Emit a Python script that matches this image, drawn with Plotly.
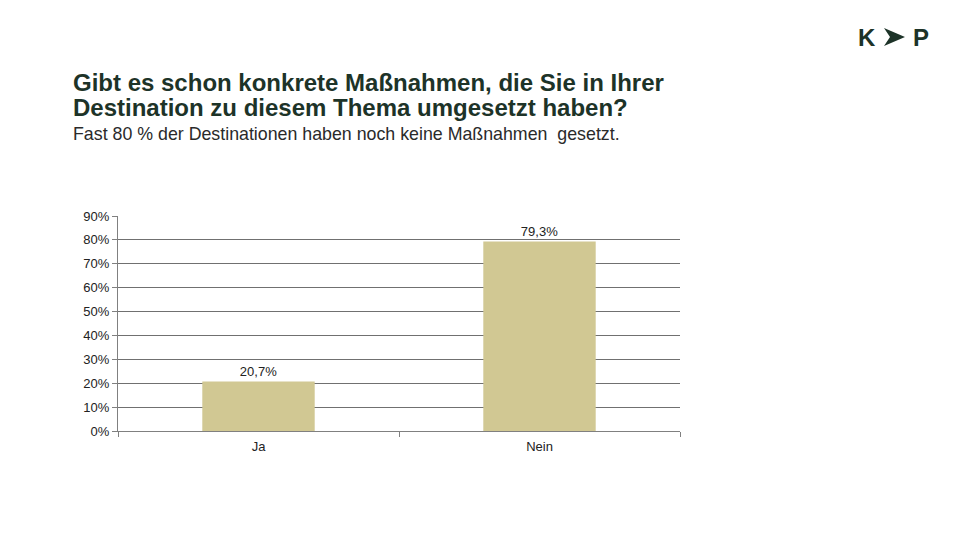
import plotly.graph_objects as go

categories = ["Ja", "Nein"]
values = [20.7, 79.3]
tick_vals = [0, 10, 20, 30, 40, 50, 60, 70, 80, 90]
tick_text = ["0%", "10%", "20%", "30%", "40%", "50%", "60%", "70%", "80%", "90%"]
labels = [f"{v:.1f}".replace(".", ",") + "%" for v in values]

title_lines = ["Gibt es schon konkrete Maßnahmen, die Sie in Ihrer",
               "Destination zu diesem Thema umgesetzt haben?"]
subtitle = "Fast 80 % der Destinationen haben noch keine Maßnahmen  gesetzt."

L, R, T, B = 118, 680, 216, 431
def px(x): return (x - L) / (R - L)
def py(y): return (B - y) / (B - T)

dark = "#1d3328"
font_fam = "Liberation Sans, Arial, sans-serif"

fig = go.Figure(go.Bar(
    x=categories, y=values, width=0.4,
    marker=dict(color="#D1C893", line=dict(width=0)),
    text=labels, textposition="outside", cliponaxis=False,
    textfont=dict(size=13, color="#222", family=font_fam),
))

fig.update_layout(
    width=960, height=540,
    margin=dict(l=L, r=960 - R, t=T, b=540 - B),
    paper_bgcolor="white", plot_bgcolor="white",
    showlegend=False, bargap=0.6,
    font=dict(family=font_fam, color="#222"),
    xaxis=dict(showgrid=False, showline=True, linecolor="#808080", linewidth=1,
               ticks="outside", ticklen=5, tickcolor="#808080", tickson="boundaries",
               ticklabelstandoff=3,
               tickfont=dict(size=13, color="#222")),
    yaxis=dict(range=[0, 90], tickvals=tick_vals, ticktext=tick_text,
               showgrid=True, gridcolor="#707070", gridwidth=1,
               showline=True, linecolor="#808080", linewidth=1,
               ticks="outside", ticklen=5, tickcolor="#808080",
               tickfont=dict(size=13, color="#222"), zeroline=False),
)

for i, (line, yc) in enumerate(zip(title_lines, [82, 107])):
    fig.add_annotation(xref="paper", yref="paper", x=px(71), y=py(yc), xanchor="left", yanchor="middle",
                       text="<b>" + line + "</b>", align="left", showarrow=False,
                       font=dict(size=24, color=dark, family=font_fam))
fig.add_annotation(xref="paper", yref="paper", x=px(71), y=py(134), xanchor="left", yanchor="middle",
                   text=subtitle, align="left", showarrow=False,
                   font=dict(size=17.8, color="#2a2a2a", family=font_fam))

# Logo
fig.add_annotation(xref="paper", yref="paper", x=px(867), y=py(37), xanchor="center", yanchor="middle",
                   text="<b>K</b>", showarrow=False, font=dict(size=24, color=dark, family=font_fam))
fig.add_annotation(xref="paper", yref="paper", x=px(921), y=py(37), xanchor="center", yanchor="middle",
                   text="<b>P</b>", showarrow=False, font=dict(size=24, color=dark, family=font_fam))
pts = [(884, 28), (905, 37), (884, 46), (890, 37)]
path = "M " + " L ".join(f"{px(a)},{py(b)}" for a, b in pts) + " Z"
fig.add_shape(type="path", xref="paper", yref="paper", path=path,
              fillcolor=dark, line=dict(width=0))

fig.write_html("out.html")
